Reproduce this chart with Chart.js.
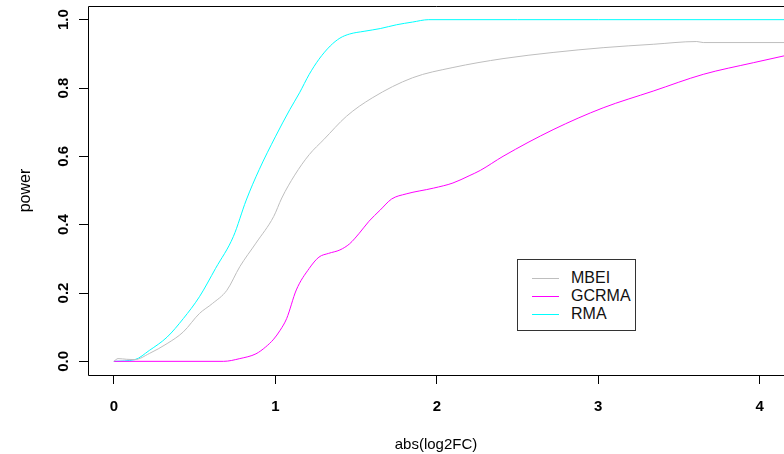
<!DOCTYPE html>
<html>
<head>
<meta charset="utf-8">
<script src="https://cdn.jsdelivr.net/npm/chart.js@4/dist/chart.umd.min.js"></script>
<style>
html,body{margin:0;padding:0;background:#fff;overflow:hidden;}
#wrap{position:relative;width:784px;height:454px;}
#legend{position:absolute;left:517px;top:259px;width:117px;height:70px;border:1px solid #333;
  font-family:"Liberation Sans",Arial,Helvetica,sans-serif;font-size:16px;color:#111;background:#fff;}
.item{position:absolute;left:0;width:117px;height:18px;}
.swatch{position:absolute;left:14px;top:9px;width:27px;height:0;border-top:1px solid;}
.lab{position:absolute;left:53px;top:0;line-height:18px;white-space:nowrap;}
</style>
</head>
<body>
<div id="wrap">
  <canvas id="c" width="784" height="454"></canvas>
  <div id="legend"></div>
</div>
<script>
// ---- data ----
const seriesNames = ['MBEI', 'GCRMA', 'RMA'];

const mbeiX = [0, 0.026, 0.08, 0.13, 0.22, 0.33, 0.43, 0.53, 0.61, 0.70, 0.78, 0.88, 0.99, 1.04, 1.12, 1.21, 1.30, 1.44, 1.60, 1.85, 2.10, 2.41, 2.72, 3.03, 3.34, 3.61, 3.65, 4.15];
const mbeiY = [0, 0.008, 0.006, 0.005, 0.023, 0.052, 0.086, 0.140, 0.169, 0.208, 0.277, 0.346, 0.424, 0.478, 0.545, 0.605, 0.649, 0.717, 0.771, 0.830, 0.860, 0.886, 0.904, 0.918, 0.928, 0.936, 0.933, 0.933];

const gcrmaX = [0, 0.68, 0.78, 0.88, 0.94, 0.99, 1.03, 1.07, 1.13, 1.21, 1.27, 1.33, 1.40, 1.46, 1.52, 1.58, 1.65, 1.72, 1.81, 1.98, 2.10, 2.20, 2.27, 2.41, 2.72, 3.03, 3.34, 3.65, 3.96, 4.15];
const gcrmaY = [0, 0, 0.008, 0.022, 0.042, 0.065, 0.091, 0.125, 0.209, 0.272, 0.305, 0.316, 0.326, 0.344, 0.375, 0.410, 0.443, 0.475, 0.490, 0.507, 0.522, 0.543, 0.559, 0.600, 0.678, 0.742, 0.791, 0.840, 0.874, 0.894];

const rmaX = [0, 0.13, 0.22, 0.33, 0.43, 0.53, 0.63, 0.74, 0.82, 0.90, 1.00, 1.09, 1.15, 1.21, 1.27, 1.34, 1.40, 1.46, 1.55, 1.65, 1.75, 1.85, 1.95, 2.50, 3.00, 3.50, 4.15];
const rmaY = [0, 0.005, 0.032, 0.071, 0.125, 0.189, 0.272, 0.365, 0.472, 0.561, 0.657, 0.737, 0.786, 0.840, 0.884, 0.923, 0.946, 0.958, 0.966, 0.974, 0.985, 0.993, 1.0, 1.0, 1.0, 1.0, 1.0];

const xTickValues = [0, 1, 2, 3, 4];
const xTickLabels = ['0', '1', '2', '3', '4'];
const yTickValues = [0, 0.2, 0.4, 0.6, 0.8, 1.0];
const yTickLabels = ['0.0', '0.2', '0.4', '0.6', '0.8', '1.0'];

const xTitle = 'abs(log2FC)';
const yTitle = 'power';

// ---- styles ----
const seriesColors = ['#BEBEBE', '#FF00FF', '#00FFFF'];
const FONT = '"Liberation Sans", Arial, Helvetica, sans-serif';
Chart.defaults.font.family = FONT;
Chart.defaults.color = '#000';

const pairs = (xs, ys) => xs.map((x, i) => ({x: x, y: ys[i]}));
const seriesData = [pairs(mbeiX, mbeiY), pairs(gcrmaX, gcrmaY), pairs(rmaX, rmaY)];

const boxPlugin = {
  id: 'box',
  afterDatasetsDraw(chart) {
    const {ctx, chartArea: a} = chart;
    ctx.save();
    ctx.strokeStyle = '#000';
    ctx.lineWidth = 1;
    ctx.beginPath();
    ctx.moveTo(a.right + 5, a.top + 0.5);
    ctx.lineTo(a.left + 0.5, a.top + 0.5);
    ctx.lineTo(a.left + 0.5, a.bottom + 0.5);
    ctx.lineTo(a.right + 5, a.bottom + 0.5);
    ctx.stroke();
    ctx.restore();
  }
};

new Chart(document.getElementById('c'), {
  type: 'scatter',
  data: {
    datasets: seriesNames.map((n, i) => ({
      label: n,
      data: seriesData[i],
      showLine: true,
      borderColor: seriesColors[i],
      backgroundColor: seriesColors[i],
      borderWidth: 1,
      pointRadius: 0,
      cubicInterpolationMode: 'monotone'
    }))
  },
  options: {
    responsive: false,
    animation: false,
    devicePixelRatio: 1,
    layout: {padding: {top: 6, left: 0, right: 0, bottom: 0}},
    plugins: {legend: {display: false}, tooltip: {enabled: false}},
    scales: {
      x: {
        type: 'linear', min: -0.16, max: 4.15,
        afterBuildTicks: s => { s.ticks = xTickValues.map(v => ({value: v})); },
        afterFit: s => { s.height = 79; s.paddingLeft = 0; s.paddingRight = 0; },
        grid: {drawOnChartArea: false, drawTicks: true, tickLength: 9, color: '#000', lineWidth: 1},
        border: {display: false},
        ticks: {
          color: '#000', font: {size: 15, weight: 'bold'}, padding: 14,
          minRotation: 0, maxRotation: 0, autoSkip: false,
          callback: v => xTickLabels[xTickValues.indexOf(v)]
        },
        title: {display: true, text: xTitle, color: '#000', font: {size: 15}, padding: {top: 0, bottom: 0}}
      },
      y: {
        type: 'linear', min: -0.04, max: 1.04,
        afterBuildTicks: s => { s.ticks = yTickValues.map(v => ({value: v})); },
        afterFit: s => { s.width = 88; s.paddingTop = 0; s.paddingBottom = 0; },
        grid: {drawOnChartArea: false, drawTicks: true, tickLength: 9, color: '#000', lineWidth: 1},
        border: {display: false},
        ticks: {
          color: '#000', font: {size: 15, weight: 'bold'}, padding: 5,
          minRotation: 90, maxRotation: 90, crossAlign: 'center', autoSkip: false,
          callback: v => yTickLabels[yTickValues.findIndex(t => Math.abs(t - v) < 1e-9)]
        },
        title: {display: true, text: yTitle, color: '#000', font: {size: 16}, padding: {top: 16, bottom: 0}}
      }
    }
  },
  plugins: [boxPlugin]
});

// legend (HTML, real text)
const leg = document.getElementById('legend');
const rowTops = [9, 27, 45];
seriesNames.forEach((n, i) => {
  const it = document.createElement('div');
  it.className = 'item';
  it.style.top = rowTops[i] + 'px';
  const sw = document.createElement('div');
  sw.className = 'swatch';
  sw.style.borderTopColor = seriesColors[i];
  const lb = document.createElement('div');
  lb.className = 'lab';
  lb.textContent = n;
  it.appendChild(sw); it.appendChild(lb);
  leg.appendChild(it);
});
</script>
</body>
</html>
